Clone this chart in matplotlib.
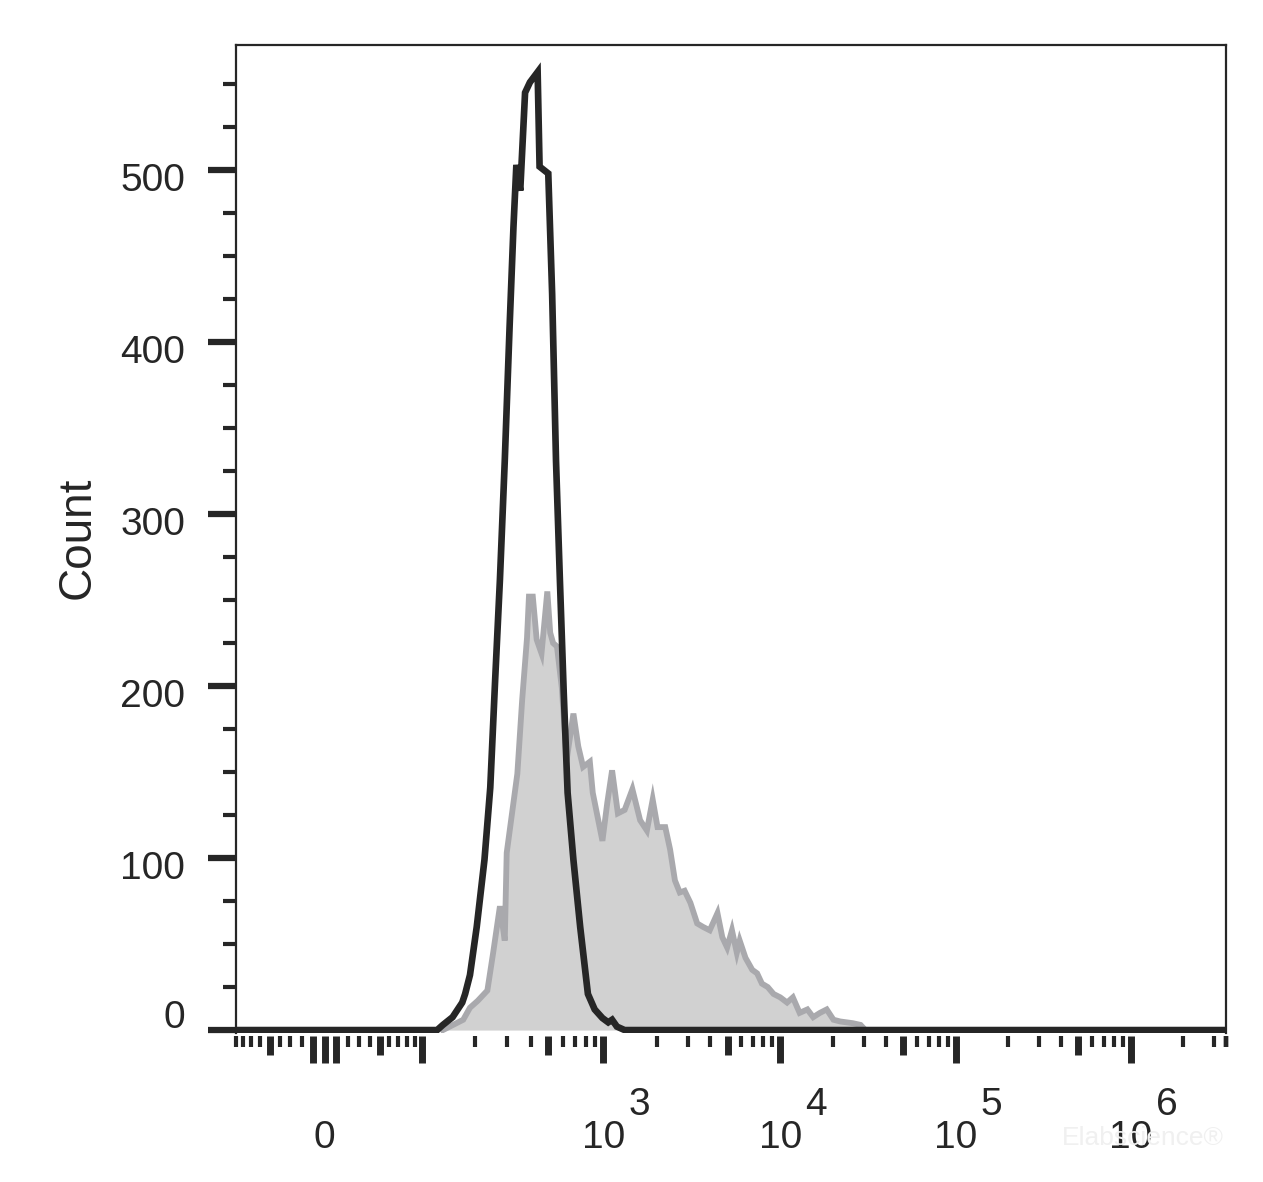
import numpy as np
import matplotlib
matplotlib.use("Agg")
import matplotlib.pyplot as plt
from matplotlib import transforms

# histogram data, x in display channels (0..1024 on a biexponential axis)
black_ch = [0, 208, 214, 224, 234, 237, 242, 249, 257, 263,
            268, 273, 278, 283, 287, 290, 294, 299, 304, 312,
            314, 323, 327, 331, 335, 339, 343, 349, 356, 364,
            371, 379, 385, 389, 394, 402, 1024]
black_count = [0, 0, 3, 7.5, 16, 21, 32, 60, 99, 141,
               203, 262, 331, 409, 467, 503, 488, 545, 551, 557,
               502, 498, 428, 331, 262, 196, 138, 99, 60, 21,
               12, 7, 4.5, 6, 2, 0, 0]

gray_ch = [214, 235, 242, 250, 260, 266, 273, 278, 280, 291,
           296, 301, 303, 307, 311, 316, 322, 325, 328, 332,
           337, 342, 349, 354, 359, 366, 369, 379, 384, 389,
           395, 402, 410, 418, 425, 431, 436, 444, 449, 454,
           459, 464, 470, 477, 483, 490, 498, 503, 508, 513,
           518, 521, 527, 534, 539, 544, 550, 556, 563, 570,
           576, 583, 591, 597, 604, 611, 618, 625, 638, 646,
           651]
gray_count = [0, 6, 13, 17, 23, 45, 72, 52, 103, 149,
              192, 228, 252, 252, 227, 219, 255, 231, 225, 223,
              199, 157, 184, 165, 153, 156, 138, 110, 132, 151,
              126, 128, 140, 122, 116, 134, 118, 118, 105, 87,
              80, 81, 74, 62, 60, 58, 68, 54, 48, 58,
              45, 52, 42, 35, 33, 27, 25, 21, 19, 16,
              19, 10, 12, 7.5, 10, 12, 6, 5, 4, 3,
              0]

y_major = [0, 100, 200, 300, 400, 500]
x_label_values = [0, 1e3, 1e4, 1e5, 1e6]
x_label_exp = ["", "3", "4", "5", "6"]

DARK = "#262626"
N_CH = 1024


def logicle_inverse(y, T=3.5e6, W=0.25, M=5.421, A=0.236):
    w = W / M
    x2 = A / M
    x1 = x2 + w
    x0 = x2 + 2 * w
    b = (M + A) * np.log(10)
    lo, hi = 1e-12, b
    for _ in range(200):
        d = (lo + hi) / 2
        if 2 * np.log(b / d) - w * (b + d) > 0:
            lo = d
        else:
            hi = d
    ca = np.exp(x0 * (b + d))
    mfa = np.exp(b * x1) - ca * np.exp(-d * x1)
    a = T / (np.exp(b) - mfa - ca * np.exp(-d))
    c = ca * a
    f = -mfa * a
    y = np.asarray(y, float)
    yy = np.where(y >= x1, y, 2 * x1 - y)
    s = a * np.exp(b * yy) - c * np.exp(-d * yy) + f
    return np.where(y >= x1, s, -s)


_grid = np.linspace(0, 1, 200001)
_vals = logicle_inverse(_grid)


def to_channel(v):
    return N_CH * np.interp(v, _vals, _grid)


def build_x_ticks():
    long_v = [-10, 0, 10, 100, 1e3, 1e4, 1e5, 1e6]
    med_v = [-50, 50, 500, 5e3, 5e4, 5e5]
    minor_v = [v for v in range(-90, 100, 10) if v not in (-50, -10, 0, 10, 50)]
    for dec in [100, 1e3, 1e4, 1e5, 1e6]:
        for m in range(2, 10):
            if m != 5:
                minor_v.append(m * dec)
    return long_v, med_v, minor_v


plt.rcParams["font.family"] = ["Liberation Sans", "DejaVu Sans"]

fig = plt.figure(figsize=(12.63, 11.82), dpi=100)
ax = fig.add_axes([236 / 1263, 1 - 1033 / 1182, 990 / 1263, 988 / 1182])

ax.fill_between(gray_ch, gray_count, 0, color="#d1d1d1", lw=0, zorder=1)
ax.plot(gray_ch, gray_count, color="#a9a9ad", lw=4.2, zorder=2,
        solid_joinstyle="miter")
ax.plot(black_ch, black_count, color=DARK, lw=4.8, zorder=3,
        solid_joinstyle="miter")

ax.set_xlim(0, N_CH)
ax.set_ylim(-1.7, 572.7)

for s in ["left", "top", "right"]:
    ax.spines[s].set_linewidth(1.6)
    ax.spines[s].set_color(DARK)
ax.spines["bottom"].set_visible(False)
ax.spines["bottom"].set_position(("outward", 2.5))

# y ticks
ax.set_yticks(y_major)
ax.set_yticks(np.arange(25, 575, 25), minor=True)
ax.tick_params(axis="y", which="major", length=20, width=4.5, color=DARK,
               labelleft=False)
ax.tick_params(axis="y", which="minor", length=9.5, width=3.0, color=DARK)

ylab_tr = ax.get_yaxis_transform()
for v in y_major:
    dy = 12 if v == 0 else -11
    off = transforms.ScaledTranslation(0, dy / 100, fig.dpi_scale_trans)
    ax.text(-0.0515, v, str(v), transform=ylab_tr + off, ha="right",
            va="center", fontsize=28, color=DARK)

# x ticks (biexponential)
long_v, med_v, minor_v = build_x_ticks()
major_v = long_v + med_v
ax.set_xticks(to_channel(major_v))
ax.set_xticks(to_channel(minor_v), minor=True)
ax.tick_params(axis="x", which="major", length=19.5, width=5, color=DARK,
               labelbottom=False)
ax.tick_params(axis="x", which="minor", length=8, width=3.0, color=DARK)
for tick, v in zip(ax.xaxis.get_major_ticks(), major_v):
    if v in med_v:
        tick.tick1line.set_markersize(14)

xlab_tr = ax.get_xaxis_transform()
sup_off = transforms.ScaledTranslation(25 / 100, 0, fig.dpi_scale_trans)
for v, e in zip(x_label_values, x_label_exp):
    xc = to_channel(v)
    if e == "":
        ax.text(xc, -0.106, "0", transform=xlab_tr, ha="center", va="center",
                fontsize=28, color=DARK)
    else:
        ax.text(xc, -0.106, "10", transform=xlab_tr, ha="center",
                va="center", fontsize=28, color=DARK)
        ax.text(xc, -0.073, e, transform=xlab_tr + sup_off, ha="left",
                va="center", fontsize=28, color=DARK)

fig.text(78 / 1263, 1 - 538 / 1182, "Count", rotation=90, ha="center",
         va="center", fontsize=33, color=DARK)
fig.text(1143 / 1263, 1 - 1138 / 1182, "Elabscience®", ha="center",
         va="center", fontsize=19, color="#f0f0f0", zorder=0)

fig.savefig("out.png", dpi=100)
